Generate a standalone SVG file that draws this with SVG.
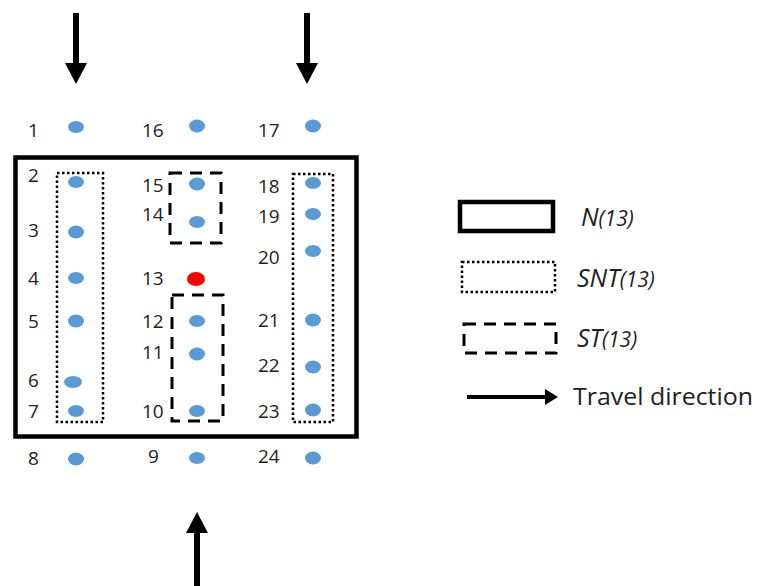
<svg xmlns="http://www.w3.org/2000/svg" width="757" height="586" viewBox="0 0 757 586">
<style>
.lbl{font-family:"Open Sans","Liberation Sans",sans-serif;font-size:19px;fill:#222}
.dot{fill:#5B9BD5}
.red{fill:#FF0000}
.solid{fill:none;stroke:#000;stroke-width:4.5}
.dotted{fill:none;stroke:#000;stroke-width:2.5;stroke-dasharray:2.5 2.5}
.dashed{fill:none;stroke:#000;stroke-width:3;stroke-dasharray:12 8}
.leg{font-family:"Open Sans","Liberation Sans",sans-serif;font-style:italic;fill:#222;font-size:25px}
.sub{font-size:21px}
.arr{fill:#000}
</style>
<rect width="757" height="586" fill="#fff"/>
<g id="regions">
<rect id="N13" class="solid" x="15.5" y="157.5" width="341" height="279"/>
<rect id="SNT-left" class="dotted" x="57" y="173" width="46" height="249"/>
<rect id="SNT-right" class="dotted" x="293" y="174" width="40" height="248"/>
<rect id="ST-top" class="dashed" x="170" y="173" width="51" height="70"/>
<rect id="ST-bottom" class="dashed" x="172" y="295" width="51" height="126"/>
</g>
<g id="nodes">
<g id="n1"><ellipse class="dot" cx="76" cy="127" rx="8" ry="6"/><text class="lbl" x="28" y="137">1</text></g>
<g id="n2"><ellipse class="dot" cx="76" cy="182" rx="8" ry="6"/><text class="lbl" x="28" y="182">2</text></g>
<g id="n3"><ellipse class="dot" cx="76" cy="232" rx="8" ry="6.5"/><text class="lbl" x="28" y="237">3</text></g>
<g id="n4"><ellipse class="dot" cx="76" cy="278" rx="8" ry="6"/><text class="lbl" x="28" y="285">4</text></g>
<g id="n5"><ellipse class="dot" cx="76" cy="321" rx="8" ry="6.5"/><text class="lbl" x="28" y="328">5</text></g>
<g id="n6"><ellipse class="dot" cx="73" cy="382" rx="9" ry="6"/><text class="lbl" x="28" y="387">6</text></g>
<g id="n7"><ellipse class="dot" cx="76" cy="411" rx="8" ry="6"/><text class="lbl" x="28" y="418">7</text></g>
<g id="n8"><ellipse class="dot" cx="76" cy="459" rx="8" ry="6.5"/><text class="lbl" x="28" y="465">8</text></g>
<g id="n9"><ellipse class="dot" cx="197" cy="458" rx="8" ry="6"/><text class="lbl" x="148" y="463">9</text></g>
<g id="n10"><ellipse class="dot" cx="197" cy="411" rx="8" ry="6"/><text class="lbl" x="142" y="418">10</text></g>
<g id="n11"><ellipse class="dot" cx="197" cy="354" rx="8" ry="6.5"/><text class="lbl" x="142" y="359">11</text></g>
<g id="n12"><ellipse class="dot" cx="197" cy="321" rx="8" ry="6"/><text class="lbl" x="142" y="328">12</text></g>
<g id="n13"><ellipse class="red" cx="196" cy="279" rx="9" ry="7"/><text class="lbl" x="142" y="285">13</text></g>
<g id="n14"><ellipse class="dot" cx="197" cy="222" rx="8" ry="6"/><text class="lbl" x="142" y="221">14</text></g>
<g id="n15"><ellipse class="dot" cx="197" cy="184" rx="8" ry="6.5"/><text class="lbl" x="142" y="192">15</text></g>
<g id="n16"><ellipse class="dot" cx="197" cy="126" rx="8" ry="6.5"/><text class="lbl" x="142" y="137">16</text></g>
<g id="n17"><ellipse class="dot" cx="313" cy="126" rx="8" ry="6.5"/><text class="lbl" x="258" y="137">17</text></g>
<g id="n18"><ellipse class="dot" cx="313" cy="183" rx="8" ry="6"/><text class="lbl" x="258" y="193">18</text></g>
<g id="n19"><ellipse class="dot" cx="313" cy="214" rx="8" ry="6"/><text class="lbl" x="258" y="223">19</text></g>
<g id="n20"><ellipse class="dot" cx="313" cy="251" rx="8" ry="6"/><text class="lbl" x="258" y="264">20</text></g>
<g id="n21"><ellipse class="dot" cx="313" cy="320" rx="8" ry="6.5"/><text class="lbl" x="258" y="327">21</text></g>
<g id="n22"><ellipse class="dot" cx="313" cy="367" rx="8" ry="6.5"/><text class="lbl" x="258" y="372">22</text></g>
<g id="n23"><ellipse class="dot" cx="313" cy="410" rx="8" ry="6.5"/><text class="lbl" x="258" y="418">23</text></g>
<g id="n24"><ellipse class="dot" cx="313" cy="458" rx="8" ry="6.5"/><text class="lbl" x="258" y="463">24</text></g>
</g>
<g id="connectors">
<path class="arr" d="M73,13 H79 V63 H87 L76,84 L65,63 H73 Z"/>
<path class="arr" d="M304,13 H310 V63 H318 L307,84 L296,63 H304 Z"/>
<path class="arr" d="M194,586 H200 V533 H208 L197,512 L186,533 H194 Z"/>
</g>
<g id="legend">
<g id="leg-N"><rect class="solid" x="460" y="202" width="93" height="29"/><text class="leg" x="581" y="226">N<tspan class="sub">(13)</tspan></text></g>
<g id="leg-SNT"><rect class="dotted" x="462" y="262" width="93" height="30"/><text class="leg" x="577" y="287">SNT<tspan class="sub">(13)</tspan></text></g>
<g id="leg-ST"><rect class="dashed" x="464" y="324" width="92" height="29"/><text class="leg" x="577" y="347">ST<tspan class="sub">(13)</tspan></text></g>
<g id="leg-travel"><path class="arr" d="M467,395 H545 V389 L558,397 L545,405 V399 H467 Z"/><text class="lbl" x="573" y="405" style="font-size:24px" textLength="180" lengthAdjust="spacingAndGlyphs">Travel direction</text></g>
</g>
</svg>
